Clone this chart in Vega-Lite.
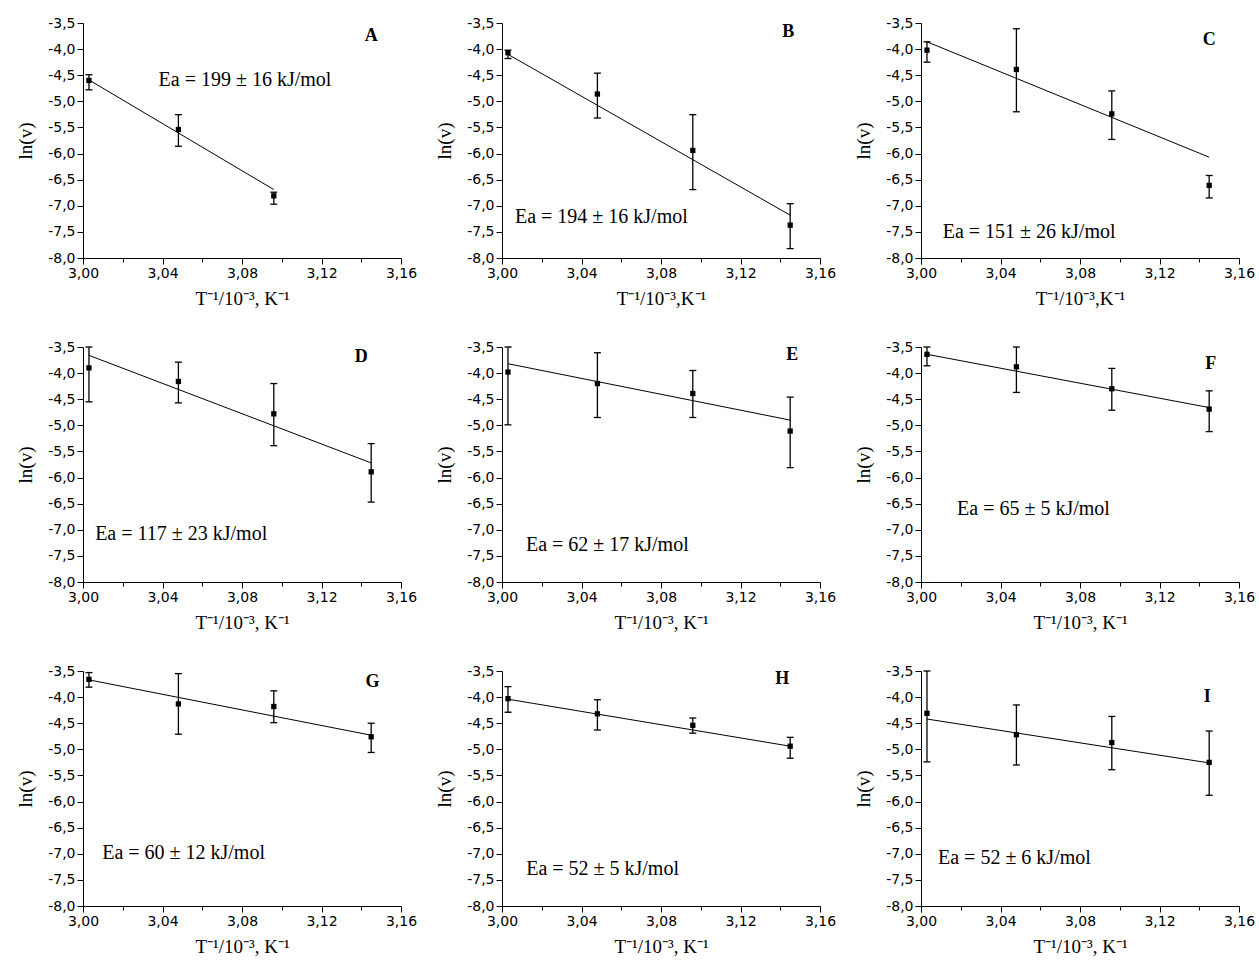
{
  "$schema": "https://vega.github.io/schema/vega-lite/v6.json",
  "padding": {"left": 16, "top": 16, "right": 5, "bottom": 5},
  "background": "white",
  "datasets": {
    "d": [
      {"p": "A", "x": 3.003, "y": -4.60, "lo": -4.49, "hi": -4.78},
      {"p": "A", "x": 3.048, "y": -5.54, "lo": -5.255, "hi": -5.86},
      {"p": "A", "x": 3.096, "y": -6.81, "lo": -6.74, "hi": -6.97},
      {"p": "B", "x": 3.003, "y": -4.07, "lo": -4.02, "hi": -4.18},
      {"p": "B", "x": 3.048, "y": -4.86, "lo": -4.46, "hi": -5.32},
      {"p": "B", "x": 3.096, "y": -5.94, "lo": -5.255, "hi": -6.69},
      {"p": "B", "x": 3.145, "y": -7.37, "lo": -6.96, "hi": -7.82},
      {"p": "C", "x": 3.003, "y": -4.02, "lo": -3.86, "hi": -4.25},
      {"p": "C", "x": 3.048, "y": -4.39, "lo": -3.61, "hi": -5.20},
      {"p": "C", "x": 3.096, "y": -5.24, "lo": -4.80, "hi": -5.73},
      {"p": "C", "x": 3.145, "y": -6.61, "lo": -6.42, "hi": -6.85},
      {"p": "D", "x": 3.003, "y": -3.90, "lo": -3.50, "hi": -4.55},
      {"p": "D", "x": 3.048, "y": -4.16, "lo": -3.79, "hi": -4.57},
      {"p": "D", "x": 3.096, "y": -4.78, "lo": -4.20, "hi": -5.39},
      {"p": "D", "x": 3.145, "y": -5.89, "lo": -5.35, "hi": -6.47},
      {"p": "E", "x": 3.003, "y": -3.98, "lo": -3.50, "hi": -4.99},
      {"p": "E", "x": 3.048, "y": -4.20, "lo": -3.61, "hi": -4.85},
      {"p": "E", "x": 3.096, "y": -4.39, "lo": -3.95, "hi": -4.85},
      {"p": "E", "x": 3.145, "y": -5.11, "lo": -4.46, "hi": -5.81},
      {"p": "F", "x": 3.003, "y": -3.64, "lo": -3.50, "hi": -3.86},
      {"p": "F", "x": 3.048, "y": -3.88, "lo": -3.50, "hi": -4.37},
      {"p": "F", "x": 3.096, "y": -4.30, "lo": -3.91, "hi": -4.71},
      {"p": "F", "x": 3.145, "y": -4.69, "lo": -4.34, "hi": -5.12},
      {"p": "G", "x": 3.003, "y": -3.66, "lo": -3.53, "hi": -3.81},
      {"p": "G", "x": 3.048, "y": -4.13, "lo": -3.55, "hi": -4.71},
      {"p": "G", "x": 3.096, "y": -4.18, "lo": -3.88, "hi": -4.49},
      {"p": "G", "x": 3.145, "y": -4.76, "lo": -4.50, "hi": -5.06},
      {"p": "H", "x": 3.003, "y": -4.03, "lo": -3.80, "hi": -4.29},
      {"p": "H", "x": 3.048, "y": -4.32, "lo": -4.05, "hi": -4.63},
      {"p": "H", "x": 3.096, "y": -4.54, "lo": -4.40, "hi": -4.69},
      {"p": "H", "x": 3.145, "y": -4.94, "lo": -4.77, "hi": -5.17},
      {"p": "I", "x": 3.003, "y": -4.31, "lo": -3.50, "hi": -5.24},
      {"p": "I", "x": 3.048, "y": -4.72, "lo": -4.15, "hi": -5.30},
      {"p": "I", "x": 3.096, "y": -4.87, "lo": -4.37, "hi": -5.39},
      {"p": "I", "x": 3.145, "y": -5.25, "lo": -4.65, "hi": -5.88}
    ],
    "f": [
      {"p": "A", "x": 3.003, "fit": -4.59},
      {"p": "A", "x": 3.096, "fit": -6.69},
      {"p": "B", "x": 3.003, "fit": -4.10},
      {"p": "B", "x": 3.145, "fit": -7.18},
      {"p": "C", "x": 3.003, "fit": -3.86},
      {"p": "C", "x": 3.145, "fit": -6.07},
      {"p": "D", "x": 3.003, "fit": -3.66},
      {"p": "D", "x": 3.145, "fit": -5.72},
      {"p": "E", "x": 3.003, "fit": -3.82},
      {"p": "E", "x": 3.145, "fit": -4.90},
      {"p": "F", "x": 3.003, "fit": -3.64},
      {"p": "F", "x": 3.145, "fit": -4.66},
      {"p": "G", "x": 3.003, "fit": -3.67},
      {"p": "G", "x": 3.145, "fit": -4.73},
      {"p": "H", "x": 3.003, "fit": -4.04},
      {"p": "H", "x": 3.145, "fit": -4.94},
      {"p": "I", "x": 3.003, "fit": -4.42},
      {"p": "I", "x": 3.145, "fit": -5.26}
    ]
  },
  "spacing": 32,
  "vconcat": [
    {
      "spacing": 101,
      "bounds": "flush",
      "hconcat": [
        {
          "width": 318, "height": 235,
          "encoding": {"x": {"field": "x", "type": "quantitative", "scale": {"domain": [3, 3.16], "nice": false, "zero": false}, "axis": {"title": "T⁻¹/10⁻³, K⁻¹", "values": [3, 3.02, 3.04, 3.06, 3.08, 3.1, 3.12, 3.14, 3.16], "labelExpr": "round(datum.value*100) % 4 === 0 ? replace(format(datum.value, '.2f'), '.', ',') : ''", "tickSize": {"condition": {"test": "round(datum.value*100) % 4 === 0", "value": 6}, "value": 4}}}},
          "layer": [
            {"data": {"name": "d"}, "transform": [{"filter": "datum.p === 'A'"}], "mark": {"type": "rule", "color": "black", "strokeWidth": 1.3}, "encoding": {"y": {"field": "lo", "type": "quantitative", "scale": {"domain": [-8, -3.5], "nice": false, "zero": false}, "axis": {"title": "ln(v)", "values": [-8, -7.5, -7, -6.5, -6, -5.5, -5, -4.5, -4, -3.5], "tickCount": 10, "labelExpr": "replace(replace(format(datum.value, '.1f'), '.', ','), '\u2212', '-')", "tickSize": 6}}, "y2": {"field": "hi"}}},
            {"data": {"name": "d"}, "transform": [{"filter": "datum.p === 'A'"}], "mark": {"type": "tick", "orient": "horizontal", "size": 7, "thickness": 1.3, "color": "black", "opacity": 1}, "encoding": {"y": {"field": "lo", "type": "quantitative", "axis": {"title": "ln(v)", "values": [-8, -7.5, -7, -6.5, -6, -5.5, -5, -4.5, -4, -3.5], "tickCount": 10, "labelExpr": "replace(replace(format(datum.value, '.1f'), '.', ','), '\u2212', '-')", "tickSize": 6}}}},
            {"data": {"name": "d"}, "transform": [{"filter": "datum.p === 'A'"}], "mark": {"type": "tick", "orient": "horizontal", "size": 7, "thickness": 1.3, "color": "black", "opacity": 1}, "encoding": {"y": {"field": "hi", "type": "quantitative", "axis": {"title": "ln(v)", "values": [-8, -7.5, -7, -6.5, -6, -5.5, -5, -4.5, -4, -3.5], "tickCount": 10, "labelExpr": "replace(replace(format(datum.value, '.1f'), '.', ','), '\u2212', '-')", "tickSize": 6}}}},
            {"data": {"name": "d"}, "transform": [{"filter": "datum.p === 'A'"}], "mark": {"type": "point", "shape": "square", "filled": true, "size": 28, "color": "black", "opacity": 1}, "encoding": {"y": {"field": "y", "type": "quantitative", "axis": {"title": "ln(v)", "values": [-8, -7.5, -7, -6.5, -6, -5.5, -5, -4.5, -4, -3.5], "tickCount": 10, "labelExpr": "replace(replace(format(datum.value, '.1f'), '.', ','), '\u2212', '-')", "tickSize": 6}}}},
            {"data": {"name": "f"}, "transform": [{"filter": "datum.p === 'A'"}], "mark": {"type": "line", "color": "black", "strokeWidth": 1}, "encoding": {"y": {"field": "fit", "type": "quantitative", "axis": {"title": "ln(v)", "values": [-8, -7.5, -7, -6.5, -6, -5.5, -5, -4.5, -4, -3.5], "tickCount": 10, "labelExpr": "replace(replace(format(datum.value, '.1f'), '.', ','), '\u2212', '-')", "tickSize": 6}}}},
            {"data": {"name": "d"}, "transform": [{"filter": "datum.p === 'A' && datum.x < 3.01"}], "mark": {"type": "text", "text": "Ea = 199 ± 16 kJ/mol", "font": "Liberation Serif", "fontSize": 20, "color": "black"}, "encoding": {"x": {"datum": 3.0815}, "y": {"datum": -4.60, "axis": {"title": "ln(v)", "values": [-8, -7.5, -7, -6.5, -6, -5.5, -5, -4.5, -4, -3.5], "tickCount": 10, "labelExpr": "replace(replace(format(datum.value, '.1f'), '.', ','), '\u2212', '-')", "tickSize": 6}}}},
            {"data": {"name": "d"}, "transform": [{"filter": "datum.p === 'A' && datum.x < 3.01"}], "mark": {"type": "text", "text": "A", "font": "Liberation Serif", "fontSize": 18, "fontWeight": "bold", "color": "black"}, "encoding": {"x": {"datum": 3.145}, "y": {"datum": -3.755, "axis": {"title": "ln(v)", "values": [-8, -7.5, -7, -6.5, -6, -5.5, -5, -4.5, -4, -3.5], "tickCount": 10, "labelExpr": "replace(replace(format(datum.value, '.1f'), '.', ','), '\u2212', '-')", "tickSize": 6}}}}
          ]
        },
        {
          "width": 318, "height": 235,
          "encoding": {"x": {"field": "x", "type": "quantitative", "scale": {"domain": [3, 3.16], "nice": false, "zero": false}, "axis": {"title": "T⁻¹/10⁻³,K⁻¹", "values": [3, 3.02, 3.04, 3.06, 3.08, 3.1, 3.12, 3.14, 3.16], "labelExpr": "round(datum.value*100) % 4 === 0 ? replace(format(datum.value, '.2f'), '.', ',') : ''", "tickSize": {"condition": {"test": "round(datum.value*100) % 4 === 0", "value": 6}, "value": 4}}}},
          "layer": [
            {"data": {"name": "d"}, "transform": [{"filter": "datum.p === 'B'"}], "mark": {"type": "rule", "color": "black", "strokeWidth": 1.3}, "encoding": {"y": {"field": "lo", "type": "quantitative", "scale": {"domain": [-8, -3.5], "nice": false, "zero": false}, "axis": {"title": "ln(v)", "values": [-8, -7.5, -7, -6.5, -6, -5.5, -5, -4.5, -4, -3.5], "tickCount": 10, "labelExpr": "replace(replace(format(datum.value, '.1f'), '.', ','), '\u2212', '-')", "tickSize": 6}}, "y2": {"field": "hi"}}},
            {"data": {"name": "d"}, "transform": [{"filter": "datum.p === 'B'"}], "mark": {"type": "tick", "orient": "horizontal", "size": 7, "thickness": 1.3, "color": "black", "opacity": 1}, "encoding": {"y": {"field": "lo", "type": "quantitative", "axis": {"title": "ln(v)", "values": [-8, -7.5, -7, -6.5, -6, -5.5, -5, -4.5, -4, -3.5], "tickCount": 10, "labelExpr": "replace(replace(format(datum.value, '.1f'), '.', ','), '\u2212', '-')", "tickSize": 6}}}},
            {"data": {"name": "d"}, "transform": [{"filter": "datum.p === 'B'"}], "mark": {"type": "tick", "orient": "horizontal", "size": 7, "thickness": 1.3, "color": "black", "opacity": 1}, "encoding": {"y": {"field": "hi", "type": "quantitative", "axis": {"title": "ln(v)", "values": [-8, -7.5, -7, -6.5, -6, -5.5, -5, -4.5, -4, -3.5], "tickCount": 10, "labelExpr": "replace(replace(format(datum.value, '.1f'), '.', ','), '\u2212', '-')", "tickSize": 6}}}},
            {"data": {"name": "d"}, "transform": [{"filter": "datum.p === 'B'"}], "mark": {"type": "point", "shape": "square", "filled": true, "size": 28, "color": "black", "opacity": 1}, "encoding": {"y": {"field": "y", "type": "quantitative", "axis": {"title": "ln(v)", "values": [-8, -7.5, -7, -6.5, -6, -5.5, -5, -4.5, -4, -3.5], "tickCount": 10, "labelExpr": "replace(replace(format(datum.value, '.1f'), '.', ','), '\u2212', '-')", "tickSize": 6}}}},
            {"data": {"name": "f"}, "transform": [{"filter": "datum.p === 'B'"}], "mark": {"type": "line", "color": "black", "strokeWidth": 1}, "encoding": {"y": {"field": "fit", "type": "quantitative", "axis": {"title": "ln(v)", "values": [-8, -7.5, -7, -6.5, -6, -5.5, -5, -4.5, -4, -3.5], "tickCount": 10, "labelExpr": "replace(replace(format(datum.value, '.1f'), '.', ','), '\u2212', '-')", "tickSize": 6}}}},
            {"data": {"name": "d"}, "transform": [{"filter": "datum.p === 'B' && datum.x < 3.01"}], "mark": {"type": "text", "text": "Ea = 194 ± 16 kJ/mol", "font": "Liberation Serif", "fontSize": 20, "color": "black"}, "encoding": {"x": {"datum": 3.050}, "y": {"datum": -7.21, "axis": {"title": "ln(v)", "values": [-8, -7.5, -7, -6.5, -6, -5.5, -5, -4.5, -4, -3.5], "tickCount": 10, "labelExpr": "replace(replace(format(datum.value, '.1f'), '.', ','), '\u2212', '-')", "tickSize": 6}}}},
            {"data": {"name": "d"}, "transform": [{"filter": "datum.p === 'B' && datum.x < 3.01"}], "mark": {"type": "text", "text": "B", "font": "Liberation Serif", "fontSize": 18, "fontWeight": "bold", "color": "black"}, "encoding": {"x": {"datum": 3.144}, "y": {"datum": -3.67, "axis": {"title": "ln(v)", "values": [-8, -7.5, -7, -6.5, -6, -5.5, -5, -4.5, -4, -3.5], "tickCount": 10, "labelExpr": "replace(replace(format(datum.value, '.1f'), '.', ','), '\u2212', '-')", "tickSize": 6}}}}
          ]
        },
        {
          "width": 318, "height": 235,
          "encoding": {"x": {"field": "x", "type": "quantitative", "scale": {"domain": [3, 3.16], "nice": false, "zero": false}, "axis": {"title": "T⁻¹/10⁻³,K⁻¹", "values": [3, 3.02, 3.04, 3.06, 3.08, 3.1, 3.12, 3.14, 3.16], "labelExpr": "round(datum.value*100) % 4 === 0 ? replace(format(datum.value, '.2f'), '.', ',') : ''", "tickSize": {"condition": {"test": "round(datum.value*100) % 4 === 0", "value": 6}, "value": 4}}}},
          "layer": [
            {"data": {"name": "d"}, "transform": [{"filter": "datum.p === 'C'"}], "mark": {"type": "rule", "color": "black", "strokeWidth": 1.3}, "encoding": {"y": {"field": "lo", "type": "quantitative", "scale": {"domain": [-8, -3.5], "nice": false, "zero": false}, "axis": {"title": "ln(v)", "values": [-8, -7.5, -7, -6.5, -6, -5.5, -5, -4.5, -4, -3.5], "tickCount": 10, "labelExpr": "replace(replace(format(datum.value, '.1f'), '.', ','), '\u2212', '-')", "tickSize": 6}}, "y2": {"field": "hi"}}},
            {"data": {"name": "d"}, "transform": [{"filter": "datum.p === 'C'"}], "mark": {"type": "tick", "orient": "horizontal", "size": 7, "thickness": 1.3, "color": "black", "opacity": 1}, "encoding": {"y": {"field": "lo", "type": "quantitative", "axis": {"title": "ln(v)", "values": [-8, -7.5, -7, -6.5, -6, -5.5, -5, -4.5, -4, -3.5], "tickCount": 10, "labelExpr": "replace(replace(format(datum.value, '.1f'), '.', ','), '\u2212', '-')", "tickSize": 6}}}},
            {"data": {"name": "d"}, "transform": [{"filter": "datum.p === 'C'"}], "mark": {"type": "tick", "orient": "horizontal", "size": 7, "thickness": 1.3, "color": "black", "opacity": 1}, "encoding": {"y": {"field": "hi", "type": "quantitative", "axis": {"title": "ln(v)", "values": [-8, -7.5, -7, -6.5, -6, -5.5, -5, -4.5, -4, -3.5], "tickCount": 10, "labelExpr": "replace(replace(format(datum.value, '.1f'), '.', ','), '\u2212', '-')", "tickSize": 6}}}},
            {"data": {"name": "d"}, "transform": [{"filter": "datum.p === 'C'"}], "mark": {"type": "point", "shape": "square", "filled": true, "size": 28, "color": "black", "opacity": 1}, "encoding": {"y": {"field": "y", "type": "quantitative", "axis": {"title": "ln(v)", "values": [-8, -7.5, -7, -6.5, -6, -5.5, -5, -4.5, -4, -3.5], "tickCount": 10, "labelExpr": "replace(replace(format(datum.value, '.1f'), '.', ','), '\u2212', '-')", "tickSize": 6}}}},
            {"data": {"name": "f"}, "transform": [{"filter": "datum.p === 'C'"}], "mark": {"type": "line", "color": "black", "strokeWidth": 1}, "encoding": {"y": {"field": "fit", "type": "quantitative", "axis": {"title": "ln(v)", "values": [-8, -7.5, -7, -6.5, -6, -5.5, -5, -4.5, -4, -3.5], "tickCount": 10, "labelExpr": "replace(replace(format(datum.value, '.1f'), '.', ','), '\u2212', '-')", "tickSize": 6}}}},
            {"data": {"name": "d"}, "transform": [{"filter": "datum.p === 'C' && datum.x < 3.01"}], "mark": {"type": "text", "text": "Ea = 151 ± 26 kJ/mol", "font": "Liberation Serif", "fontSize": 20, "color": "black"}, "encoding": {"x": {"datum": 3.0544}, "y": {"datum": -7.50, "axis": {"title": "ln(v)", "values": [-8, -7.5, -7, -6.5, -6, -5.5, -5, -4.5, -4, -3.5], "tickCount": 10, "labelExpr": "replace(replace(format(datum.value, '.1f'), '.', ','), '\u2212', '-')", "tickSize": 6}}}},
            {"data": {"name": "d"}, "transform": [{"filter": "datum.p === 'C' && datum.x < 3.01"}], "mark": {"type": "text", "text": "C", "font": "Liberation Serif", "fontSize": 18, "fontWeight": "bold", "color": "black"}, "encoding": {"x": {"datum": 3.145}, "y": {"datum": -3.82, "axis": {"title": "ln(v)", "values": [-8, -7.5, -7, -6.5, -6, -5.5, -5, -4.5, -4, -3.5], "tickCount": 10, "labelExpr": "replace(replace(format(datum.value, '.1f'), '.', ','), '\u2212', '-')", "tickSize": 6}}}}
          ]
        }
      ]
    },
    {
      "spacing": 101,
      "bounds": "flush",
      "hconcat": [
        {
          "width": 318, "height": 235,
          "encoding": {"x": {"field": "x", "type": "quantitative", "scale": {"domain": [3, 3.16], "nice": false, "zero": false}, "axis": {"title": "T⁻¹/10⁻³, K⁻¹", "values": [3, 3.02, 3.04, 3.06, 3.08, 3.1, 3.12, 3.14, 3.16], "labelExpr": "round(datum.value*100) % 4 === 0 ? replace(format(datum.value, '.2f'), '.', ',') : ''", "tickSize": {"condition": {"test": "round(datum.value*100) % 4 === 0", "value": 6}, "value": 4}}}},
          "layer": [
            {"data": {"name": "d"}, "transform": [{"filter": "datum.p === 'D'"}], "mark": {"type": "rule", "color": "black", "strokeWidth": 1.3}, "encoding": {"y": {"field": "lo", "type": "quantitative", "scale": {"domain": [-8, -3.5], "nice": false, "zero": false}, "axis": {"title": "ln(v)", "values": [-8, -7.5, -7, -6.5, -6, -5.5, -5, -4.5, -4, -3.5], "tickCount": 10, "labelExpr": "replace(replace(format(datum.value, '.1f'), '.', ','), '\u2212', '-')", "tickSize": 6}}, "y2": {"field": "hi"}}},
            {"data": {"name": "d"}, "transform": [{"filter": "datum.p === 'D'"}], "mark": {"type": "tick", "orient": "horizontal", "size": 7, "thickness": 1.3, "color": "black", "opacity": 1}, "encoding": {"y": {"field": "lo", "type": "quantitative", "axis": {"title": "ln(v)", "values": [-8, -7.5, -7, -6.5, -6, -5.5, -5, -4.5, -4, -3.5], "tickCount": 10, "labelExpr": "replace(replace(format(datum.value, '.1f'), '.', ','), '\u2212', '-')", "tickSize": 6}}}},
            {"data": {"name": "d"}, "transform": [{"filter": "datum.p === 'D'"}], "mark": {"type": "tick", "orient": "horizontal", "size": 7, "thickness": 1.3, "color": "black", "opacity": 1}, "encoding": {"y": {"field": "hi", "type": "quantitative", "axis": {"title": "ln(v)", "values": [-8, -7.5, -7, -6.5, -6, -5.5, -5, -4.5, -4, -3.5], "tickCount": 10, "labelExpr": "replace(replace(format(datum.value, '.1f'), '.', ','), '\u2212', '-')", "tickSize": 6}}}},
            {"data": {"name": "d"}, "transform": [{"filter": "datum.p === 'D'"}], "mark": {"type": "point", "shape": "square", "filled": true, "size": 28, "color": "black", "opacity": 1}, "encoding": {"y": {"field": "y", "type": "quantitative", "axis": {"title": "ln(v)", "values": [-8, -7.5, -7, -6.5, -6, -5.5, -5, -4.5, -4, -3.5], "tickCount": 10, "labelExpr": "replace(replace(format(datum.value, '.1f'), '.', ','), '\u2212', '-')", "tickSize": 6}}}},
            {"data": {"name": "f"}, "transform": [{"filter": "datum.p === 'D'"}], "mark": {"type": "line", "color": "black", "strokeWidth": 1}, "encoding": {"y": {"field": "fit", "type": "quantitative", "axis": {"title": "ln(v)", "values": [-8, -7.5, -7, -6.5, -6, -5.5, -5, -4.5, -4, -3.5], "tickCount": 10, "labelExpr": "replace(replace(format(datum.value, '.1f'), '.', ','), '\u2212', '-')", "tickSize": 6}}}},
            {"data": {"name": "d"}, "transform": [{"filter": "datum.p === 'D' && datum.x < 3.01"}], "mark": {"type": "text", "text": "Ea = 117 ± 23 kJ/mol", "font": "Liberation Serif", "fontSize": 20, "color": "black"}, "encoding": {"x": {"datum": 3.0494}, "y": {"datum": -7.09, "axis": {"title": "ln(v)", "values": [-8, -7.5, -7, -6.5, -6, -5.5, -5, -4.5, -4, -3.5], "tickCount": 10, "labelExpr": "replace(replace(format(datum.value, '.1f'), '.', ','), '\u2212', '-')", "tickSize": 6}}}},
            {"data": {"name": "d"}, "transform": [{"filter": "datum.p === 'D' && datum.x < 3.01"}], "mark": {"type": "text", "text": "D", "font": "Liberation Serif", "fontSize": 18, "fontWeight": "bold", "color": "black"}, "encoding": {"x": {"datum": 3.140}, "y": {"datum": -3.70, "axis": {"title": "ln(v)", "values": [-8, -7.5, -7, -6.5, -6, -5.5, -5, -4.5, -4, -3.5], "tickCount": 10, "labelExpr": "replace(replace(format(datum.value, '.1f'), '.', ','), '\u2212', '-')", "tickSize": 6}}}}
          ]
        },
        {
          "width": 318, "height": 235,
          "encoding": {"x": {"field": "x", "type": "quantitative", "scale": {"domain": [3, 3.16], "nice": false, "zero": false}, "axis": {"title": "T⁻¹/10⁻³, K⁻¹", "values": [3, 3.02, 3.04, 3.06, 3.08, 3.1, 3.12, 3.14, 3.16], "labelExpr": "round(datum.value*100) % 4 === 0 ? replace(format(datum.value, '.2f'), '.', ',') : ''", "tickSize": {"condition": {"test": "round(datum.value*100) % 4 === 0", "value": 6}, "value": 4}}}},
          "layer": [
            {"data": {"name": "d"}, "transform": [{"filter": "datum.p === 'E'"}], "mark": {"type": "rule", "color": "black", "strokeWidth": 1.3}, "encoding": {"y": {"field": "lo", "type": "quantitative", "scale": {"domain": [-8, -3.5], "nice": false, "zero": false}, "axis": {"title": "ln(v)", "values": [-8, -7.5, -7, -6.5, -6, -5.5, -5, -4.5, -4, -3.5], "tickCount": 10, "labelExpr": "replace(replace(format(datum.value, '.1f'), '.', ','), '\u2212', '-')", "tickSize": 6}}, "y2": {"field": "hi"}}},
            {"data": {"name": "d"}, "transform": [{"filter": "datum.p === 'E'"}], "mark": {"type": "tick", "orient": "horizontal", "size": 7, "thickness": 1.3, "color": "black", "opacity": 1}, "encoding": {"y": {"field": "lo", "type": "quantitative", "axis": {"title": "ln(v)", "values": [-8, -7.5, -7, -6.5, -6, -5.5, -5, -4.5, -4, -3.5], "tickCount": 10, "labelExpr": "replace(replace(format(datum.value, '.1f'), '.', ','), '\u2212', '-')", "tickSize": 6}}}},
            {"data": {"name": "d"}, "transform": [{"filter": "datum.p === 'E'"}], "mark": {"type": "tick", "orient": "horizontal", "size": 7, "thickness": 1.3, "color": "black", "opacity": 1}, "encoding": {"y": {"field": "hi", "type": "quantitative", "axis": {"title": "ln(v)", "values": [-8, -7.5, -7, -6.5, -6, -5.5, -5, -4.5, -4, -3.5], "tickCount": 10, "labelExpr": "replace(replace(format(datum.value, '.1f'), '.', ','), '\u2212', '-')", "tickSize": 6}}}},
            {"data": {"name": "d"}, "transform": [{"filter": "datum.p === 'E'"}], "mark": {"type": "point", "shape": "square", "filled": true, "size": 28, "color": "black", "opacity": 1}, "encoding": {"y": {"field": "y", "type": "quantitative", "axis": {"title": "ln(v)", "values": [-8, -7.5, -7, -6.5, -6, -5.5, -5, -4.5, -4, -3.5], "tickCount": 10, "labelExpr": "replace(replace(format(datum.value, '.1f'), '.', ','), '\u2212', '-')", "tickSize": 6}}}},
            {"data": {"name": "f"}, "transform": [{"filter": "datum.p === 'E'"}], "mark": {"type": "line", "color": "black", "strokeWidth": 1}, "encoding": {"y": {"field": "fit", "type": "quantitative", "axis": {"title": "ln(v)", "values": [-8, -7.5, -7, -6.5, -6, -5.5, -5, -4.5, -4, -3.5], "tickCount": 10, "labelExpr": "replace(replace(format(datum.value, '.1f'), '.', ','), '\u2212', '-')", "tickSize": 6}}}},
            {"data": {"name": "d"}, "transform": [{"filter": "datum.p === 'E' && datum.x < 3.01"}], "mark": {"type": "text", "text": "Ea = 62 ± 17 kJ/mol", "font": "Liberation Serif", "fontSize": 20, "color": "black"}, "encoding": {"x": {"datum": 3.053}, "y": {"datum": -7.30, "axis": {"title": "ln(v)", "values": [-8, -7.5, -7, -6.5, -6, -5.5, -5, -4.5, -4, -3.5], "tickCount": 10, "labelExpr": "replace(replace(format(datum.value, '.1f'), '.', ','), '\u2212', '-')", "tickSize": 6}}}},
            {"data": {"name": "d"}, "transform": [{"filter": "datum.p === 'E' && datum.x < 3.01"}], "mark": {"type": "text", "text": "E", "font": "Liberation Serif", "fontSize": 18, "fontWeight": "bold", "color": "black"}, "encoding": {"x": {"datum": 3.146}, "y": {"datum": -3.66, "axis": {"title": "ln(v)", "values": [-8, -7.5, -7, -6.5, -6, -5.5, -5, -4.5, -4, -3.5], "tickCount": 10, "labelExpr": "replace(replace(format(datum.value, '.1f'), '.', ','), '\u2212', '-')", "tickSize": 6}}}}
          ]
        },
        {
          "width": 318, "height": 235,
          "encoding": {"x": {"field": "x", "type": "quantitative", "scale": {"domain": [3, 3.16], "nice": false, "zero": false}, "axis": {"title": "T⁻¹/10⁻³, K⁻¹", "values": [3, 3.02, 3.04, 3.06, 3.08, 3.1, 3.12, 3.14, 3.16], "labelExpr": "round(datum.value*100) % 4 === 0 ? replace(format(datum.value, '.2f'), '.', ',') : ''", "tickSize": {"condition": {"test": "round(datum.value*100) % 4 === 0", "value": 6}, "value": 4}}}},
          "layer": [
            {"data": {"name": "d"}, "transform": [{"filter": "datum.p === 'F'"}], "mark": {"type": "rule", "color": "black", "strokeWidth": 1.3}, "encoding": {"y": {"field": "lo", "type": "quantitative", "scale": {"domain": [-8, -3.5], "nice": false, "zero": false}, "axis": {"title": "ln(v)", "values": [-8, -7.5, -7, -6.5, -6, -5.5, -5, -4.5, -4, -3.5], "tickCount": 10, "labelExpr": "replace(replace(format(datum.value, '.1f'), '.', ','), '\u2212', '-')", "tickSize": 6}}, "y2": {"field": "hi"}}},
            {"data": {"name": "d"}, "transform": [{"filter": "datum.p === 'F'"}], "mark": {"type": "tick", "orient": "horizontal", "size": 7, "thickness": 1.3, "color": "black", "opacity": 1}, "encoding": {"y": {"field": "lo", "type": "quantitative", "axis": {"title": "ln(v)", "values": [-8, -7.5, -7, -6.5, -6, -5.5, -5, -4.5, -4, -3.5], "tickCount": 10, "labelExpr": "replace(replace(format(datum.value, '.1f'), '.', ','), '\u2212', '-')", "tickSize": 6}}}},
            {"data": {"name": "d"}, "transform": [{"filter": "datum.p === 'F'"}], "mark": {"type": "tick", "orient": "horizontal", "size": 7, "thickness": 1.3, "color": "black", "opacity": 1}, "encoding": {"y": {"field": "hi", "type": "quantitative", "axis": {"title": "ln(v)", "values": [-8, -7.5, -7, -6.5, -6, -5.5, -5, -4.5, -4, -3.5], "tickCount": 10, "labelExpr": "replace(replace(format(datum.value, '.1f'), '.', ','), '\u2212', '-')", "tickSize": 6}}}},
            {"data": {"name": "d"}, "transform": [{"filter": "datum.p === 'F'"}], "mark": {"type": "point", "shape": "square", "filled": true, "size": 28, "color": "black", "opacity": 1}, "encoding": {"y": {"field": "y", "type": "quantitative", "axis": {"title": "ln(v)", "values": [-8, -7.5, -7, -6.5, -6, -5.5, -5, -4.5, -4, -3.5], "tickCount": 10, "labelExpr": "replace(replace(format(datum.value, '.1f'), '.', ','), '\u2212', '-')", "tickSize": 6}}}},
            {"data": {"name": "f"}, "transform": [{"filter": "datum.p === 'F'"}], "mark": {"type": "line", "color": "black", "strokeWidth": 1}, "encoding": {"y": {"field": "fit", "type": "quantitative", "axis": {"title": "ln(v)", "values": [-8, -7.5, -7, -6.5, -6, -5.5, -5, -4.5, -4, -3.5], "tickCount": 10, "labelExpr": "replace(replace(format(datum.value, '.1f'), '.', ','), '\u2212', '-')", "tickSize": 6}}}},
            {"data": {"name": "d"}, "transform": [{"filter": "datum.p === 'F' && datum.x < 3.01"}], "mark": {"type": "text", "text": "Ea = 65 ± 5 kJ/mol", "font": "Liberation Serif", "fontSize": 20, "color": "black"}, "encoding": {"x": {"datum": 3.0566}, "y": {"datum": -6.61, "axis": {"title": "ln(v)", "values": [-8, -7.5, -7, -6.5, -6, -5.5, -5, -4.5, -4, -3.5], "tickCount": 10, "labelExpr": "replace(replace(format(datum.value, '.1f'), '.', ','), '\u2212', '-')", "tickSize": 6}}}},
            {"data": {"name": "d"}, "transform": [{"filter": "datum.p === 'F' && datum.x < 3.01"}], "mark": {"type": "text", "text": "F", "font": "Liberation Serif", "fontSize": 18, "fontWeight": "bold", "color": "black"}, "encoding": {"x": {"datum": 3.1458}, "y": {"datum": -3.83, "axis": {"title": "ln(v)", "values": [-8, -7.5, -7, -6.5, -6, -5.5, -5, -4.5, -4, -3.5], "tickCount": 10, "labelExpr": "replace(replace(format(datum.value, '.1f'), '.', ','), '\u2212', '-')", "tickSize": 6}}}}
          ]
        }
      ]
    },
    {
      "spacing": 101,
      "bounds": "flush",
      "hconcat": [
        {
          "width": 318, "height": 235,
          "encoding": {"x": {"field": "x", "type": "quantitative", "scale": {"domain": [3, 3.16], "nice": false, "zero": false}, "axis": {"title": "T⁻¹/10⁻³, K⁻¹", "values": [3, 3.02, 3.04, 3.06, 3.08, 3.1, 3.12, 3.14, 3.16], "labelExpr": "round(datum.value*100) % 4 === 0 ? replace(format(datum.value, '.2f'), '.', ',') : ''", "tickSize": {"condition": {"test": "round(datum.value*100) % 4 === 0", "value": 6}, "value": 4}}}},
          "layer": [
            {"data": {"name": "d"}, "transform": [{"filter": "datum.p === 'G'"}], "mark": {"type": "rule", "color": "black", "strokeWidth": 1.3}, "encoding": {"y": {"field": "lo", "type": "quantitative", "scale": {"domain": [-8, -3.5], "nice": false, "zero": false}, "axis": {"title": "ln(v)", "values": [-8, -7.5, -7, -6.5, -6, -5.5, -5, -4.5, -4, -3.5], "tickCount": 10, "labelExpr": "replace(replace(format(datum.value, '.1f'), '.', ','), '\u2212', '-')", "tickSize": 6}}, "y2": {"field": "hi"}}},
            {"data": {"name": "d"}, "transform": [{"filter": "datum.p === 'G'"}], "mark": {"type": "tick", "orient": "horizontal", "size": 7, "thickness": 1.3, "color": "black", "opacity": 1}, "encoding": {"y": {"field": "lo", "type": "quantitative", "axis": {"title": "ln(v)", "values": [-8, -7.5, -7, -6.5, -6, -5.5, -5, -4.5, -4, -3.5], "tickCount": 10, "labelExpr": "replace(replace(format(datum.value, '.1f'), '.', ','), '\u2212', '-')", "tickSize": 6}}}},
            {"data": {"name": "d"}, "transform": [{"filter": "datum.p === 'G'"}], "mark": {"type": "tick", "orient": "horizontal", "size": 7, "thickness": 1.3, "color": "black", "opacity": 1}, "encoding": {"y": {"field": "hi", "type": "quantitative", "axis": {"title": "ln(v)", "values": [-8, -7.5, -7, -6.5, -6, -5.5, -5, -4.5, -4, -3.5], "tickCount": 10, "labelExpr": "replace(replace(format(datum.value, '.1f'), '.', ','), '\u2212', '-')", "tickSize": 6}}}},
            {"data": {"name": "d"}, "transform": [{"filter": "datum.p === 'G'"}], "mark": {"type": "point", "shape": "square", "filled": true, "size": 28, "color": "black", "opacity": 1}, "encoding": {"y": {"field": "y", "type": "quantitative", "axis": {"title": "ln(v)", "values": [-8, -7.5, -7, -6.5, -6, -5.5, -5, -4.5, -4, -3.5], "tickCount": 10, "labelExpr": "replace(replace(format(datum.value, '.1f'), '.', ','), '\u2212', '-')", "tickSize": 6}}}},
            {"data": {"name": "f"}, "transform": [{"filter": "datum.p === 'G'"}], "mark": {"type": "line", "color": "black", "strokeWidth": 1}, "encoding": {"y": {"field": "fit", "type": "quantitative", "axis": {"title": "ln(v)", "values": [-8, -7.5, -7, -6.5, -6, -5.5, -5, -4.5, -4, -3.5], "tickCount": 10, "labelExpr": "replace(replace(format(datum.value, '.1f'), '.', ','), '\u2212', '-')", "tickSize": 6}}}},
            {"data": {"name": "d"}, "transform": [{"filter": "datum.p === 'G' && datum.x < 3.01"}], "mark": {"type": "text", "text": "Ea = 60 ± 12 kJ/mol", "font": "Liberation Serif", "fontSize": 20, "color": "black"}, "encoding": {"x": {"datum": 3.0506}, "y": {"datum": -6.98, "axis": {"title": "ln(v)", "values": [-8, -7.5, -7, -6.5, -6, -5.5, -5, -4.5, -4, -3.5], "tickCount": 10, "labelExpr": "replace(replace(format(datum.value, '.1f'), '.', ','), '\u2212', '-')", "tickSize": 6}}}},
            {"data": {"name": "d"}, "transform": [{"filter": "datum.p === 'G' && datum.x < 3.01"}], "mark": {"type": "text", "text": "G", "font": "Liberation Serif", "fontSize": 18, "fontWeight": "bold", "color": "black"}, "encoding": {"x": {"datum": 3.1456}, "y": {"datum": -3.72, "axis": {"title": "ln(v)", "values": [-8, -7.5, -7, -6.5, -6, -5.5, -5, -4.5, -4, -3.5], "tickCount": 10, "labelExpr": "replace(replace(format(datum.value, '.1f'), '.', ','), '\u2212', '-')", "tickSize": 6}}}}
          ]
        },
        {
          "width": 318, "height": 235,
          "encoding": {"x": {"field": "x", "type": "quantitative", "scale": {"domain": [3, 3.16], "nice": false, "zero": false}, "axis": {"title": "T⁻¹/10⁻³, K⁻¹", "values": [3, 3.02, 3.04, 3.06, 3.08, 3.1, 3.12, 3.14, 3.16], "labelExpr": "round(datum.value*100) % 4 === 0 ? replace(format(datum.value, '.2f'), '.', ',') : ''", "tickSize": {"condition": {"test": "round(datum.value*100) % 4 === 0", "value": 6}, "value": 4}}}},
          "layer": [
            {"data": {"name": "d"}, "transform": [{"filter": "datum.p === 'H'"}], "mark": {"type": "rule", "color": "black", "strokeWidth": 1.3}, "encoding": {"y": {"field": "lo", "type": "quantitative", "scale": {"domain": [-8, -3.5], "nice": false, "zero": false}, "axis": {"title": "ln(v)", "values": [-8, -7.5, -7, -6.5, -6, -5.5, -5, -4.5, -4, -3.5], "tickCount": 10, "labelExpr": "replace(replace(format(datum.value, '.1f'), '.', ','), '\u2212', '-')", "tickSize": 6}}, "y2": {"field": "hi"}}},
            {"data": {"name": "d"}, "transform": [{"filter": "datum.p === 'H'"}], "mark": {"type": "tick", "orient": "horizontal", "size": 7, "thickness": 1.3, "color": "black", "opacity": 1}, "encoding": {"y": {"field": "lo", "type": "quantitative", "axis": {"title": "ln(v)", "values": [-8, -7.5, -7, -6.5, -6, -5.5, -5, -4.5, -4, -3.5], "tickCount": 10, "labelExpr": "replace(replace(format(datum.value, '.1f'), '.', ','), '\u2212', '-')", "tickSize": 6}}}},
            {"data": {"name": "d"}, "transform": [{"filter": "datum.p === 'H'"}], "mark": {"type": "tick", "orient": "horizontal", "size": 7, "thickness": 1.3, "color": "black", "opacity": 1}, "encoding": {"y": {"field": "hi", "type": "quantitative", "axis": {"title": "ln(v)", "values": [-8, -7.5, -7, -6.5, -6, -5.5, -5, -4.5, -4, -3.5], "tickCount": 10, "labelExpr": "replace(replace(format(datum.value, '.1f'), '.', ','), '\u2212', '-')", "tickSize": 6}}}},
            {"data": {"name": "d"}, "transform": [{"filter": "datum.p === 'H'"}], "mark": {"type": "point", "shape": "square", "filled": true, "size": 28, "color": "black", "opacity": 1}, "encoding": {"y": {"field": "y", "type": "quantitative", "axis": {"title": "ln(v)", "values": [-8, -7.5, -7, -6.5, -6, -5.5, -5, -4.5, -4, -3.5], "tickCount": 10, "labelExpr": "replace(replace(format(datum.value, '.1f'), '.', ','), '\u2212', '-')", "tickSize": 6}}}},
            {"data": {"name": "f"}, "transform": [{"filter": "datum.p === 'H'"}], "mark": {"type": "line", "color": "black", "strokeWidth": 1}, "encoding": {"y": {"field": "fit", "type": "quantitative", "axis": {"title": "ln(v)", "values": [-8, -7.5, -7, -6.5, -6, -5.5, -5, -4.5, -4, -3.5], "tickCount": 10, "labelExpr": "replace(replace(format(datum.value, '.1f'), '.', ','), '\u2212', '-')", "tickSize": 6}}}},
            {"data": {"name": "d"}, "transform": [{"filter": "datum.p === 'H' && datum.x < 3.01"}], "mark": {"type": "text", "text": "Ea = 52 ± 5 kJ/mol", "font": "Liberation Serif", "fontSize": 20, "color": "black"}, "encoding": {"x": {"datum": 3.0506}, "y": {"datum": -7.30, "axis": {"title": "ln(v)", "values": [-8, -7.5, -7, -6.5, -6, -5.5, -5, -4.5, -4, -3.5], "tickCount": 10, "labelExpr": "replace(replace(format(datum.value, '.1f'), '.', ','), '\u2212', '-')", "tickSize": 6}}}},
            {"data": {"name": "d"}, "transform": [{"filter": "datum.p === 'H' && datum.x < 3.01"}], "mark": {"type": "text", "text": "H", "font": "Liberation Serif", "fontSize": 18, "fontWeight": "bold", "color": "black"}, "encoding": {"x": {"datum": 3.141}, "y": {"datum": -3.66, "axis": {"title": "ln(v)", "values": [-8, -7.5, -7, -6.5, -6, -5.5, -5, -4.5, -4, -3.5], "tickCount": 10, "labelExpr": "replace(replace(format(datum.value, '.1f'), '.', ','), '\u2212', '-')", "tickSize": 6}}}}
          ]
        },
        {
          "width": 318, "height": 235,
          "encoding": {"x": {"field": "x", "type": "quantitative", "scale": {"domain": [3, 3.16], "nice": false, "zero": false}, "axis": {"title": "T⁻¹/10⁻³, K⁻¹", "values": [3, 3.02, 3.04, 3.06, 3.08, 3.1, 3.12, 3.14, 3.16], "labelExpr": "round(datum.value*100) % 4 === 0 ? replace(format(datum.value, '.2f'), '.', ',') : ''", "tickSize": {"condition": {"test": "round(datum.value*100) % 4 === 0", "value": 6}, "value": 4}}}},
          "layer": [
            {"data": {"name": "d"}, "transform": [{"filter": "datum.p === 'I'"}], "mark": {"type": "rule", "color": "black", "strokeWidth": 1.3}, "encoding": {"y": {"field": "lo", "type": "quantitative", "scale": {"domain": [-8, -3.5], "nice": false, "zero": false}, "axis": {"title": "ln(v)", "values": [-8, -7.5, -7, -6.5, -6, -5.5, -5, -4.5, -4, -3.5], "tickCount": 10, "labelExpr": "replace(replace(format(datum.value, '.1f'), '.', ','), '\u2212', '-')", "tickSize": 6}}, "y2": {"field": "hi"}}},
            {"data": {"name": "d"}, "transform": [{"filter": "datum.p === 'I'"}], "mark": {"type": "tick", "orient": "horizontal", "size": 7, "thickness": 1.3, "color": "black", "opacity": 1}, "encoding": {"y": {"field": "lo", "type": "quantitative", "axis": {"title": "ln(v)", "values": [-8, -7.5, -7, -6.5, -6, -5.5, -5, -4.5, -4, -3.5], "tickCount": 10, "labelExpr": "replace(replace(format(datum.value, '.1f'), '.', ','), '\u2212', '-')", "tickSize": 6}}}},
            {"data": {"name": "d"}, "transform": [{"filter": "datum.p === 'I'"}], "mark": {"type": "tick", "orient": "horizontal", "size": 7, "thickness": 1.3, "color": "black", "opacity": 1}, "encoding": {"y": {"field": "hi", "type": "quantitative", "axis": {"title": "ln(v)", "values": [-8, -7.5, -7, -6.5, -6, -5.5, -5, -4.5, -4, -3.5], "tickCount": 10, "labelExpr": "replace(replace(format(datum.value, '.1f'), '.', ','), '\u2212', '-')", "tickSize": 6}}}},
            {"data": {"name": "d"}, "transform": [{"filter": "datum.p === 'I'"}], "mark": {"type": "point", "shape": "square", "filled": true, "size": 28, "color": "black", "opacity": 1}, "encoding": {"y": {"field": "y", "type": "quantitative", "axis": {"title": "ln(v)", "values": [-8, -7.5, -7, -6.5, -6, -5.5, -5, -4.5, -4, -3.5], "tickCount": 10, "labelExpr": "replace(replace(format(datum.value, '.1f'), '.', ','), '\u2212', '-')", "tickSize": 6}}}},
            {"data": {"name": "f"}, "transform": [{"filter": "datum.p === 'I'"}], "mark": {"type": "line", "color": "black", "strokeWidth": 1}, "encoding": {"y": {"field": "fit", "type": "quantitative", "axis": {"title": "ln(v)", "values": [-8, -7.5, -7, -6.5, -6, -5.5, -5, -4.5, -4, -3.5], "tickCount": 10, "labelExpr": "replace(replace(format(datum.value, '.1f'), '.', ','), '\u2212', '-')", "tickSize": 6}}}},
            {"data": {"name": "d"}, "transform": [{"filter": "datum.p === 'I' && datum.x < 3.01"}], "mark": {"type": "text", "text": "Ea = 52 ± 6 kJ/mol", "font": "Liberation Serif", "fontSize": 20, "color": "black"}, "encoding": {"x": {"datum": 3.047}, "y": {"datum": -7.08, "axis": {"title": "ln(v)", "values": [-8, -7.5, -7, -6.5, -6, -5.5, -5, -4.5, -4, -3.5], "tickCount": 10, "labelExpr": "replace(replace(format(datum.value, '.1f'), '.', ','), '\u2212', '-')", "tickSize": 6}}}},
            {"data": {"name": "d"}, "transform": [{"filter": "datum.p === 'I' && datum.x < 3.01"}], "mark": {"type": "text", "text": "I", "font": "Liberation Serif", "fontSize": 18, "fontWeight": "bold", "color": "black"}, "encoding": {"x": {"datum": 3.144}, "y": {"datum": -3.99, "axis": {"title": "ln(v)", "values": [-8, -7.5, -7, -6.5, -6, -5.5, -5, -4.5, -4, -3.5], "tickCount": 10, "labelExpr": "replace(replace(format(datum.value, '.1f'), '.', ','), '\u2212', '-')", "tickSize": 6}}}}
          ]
        }
      ]
    }
  ],
  "config": {
    "view": {"stroke": null},
    "axis": {
      "grid": false,
      "domainColor": "black",
      "domainWidth": 1,
      "tickColor": "black",
      "tickWidth": 1,
      "labelColor": "black",
      "labelFont": "DejaVu Sans",
      "labelFontSize": 14,
      "labelOverlap": false,
      "labelFlush": false,
      "labelBound": false,
      "labelPadding": 2,
      "titleColor": "black",
      "titleFont": "Liberation Serif",
      "titleFontSize": 19,
      "titleFontWeight": "normal"
    },
    "axisX": {"titlePadding": 9},
    "axisY": {"titlePadding": 12}
  }
}
